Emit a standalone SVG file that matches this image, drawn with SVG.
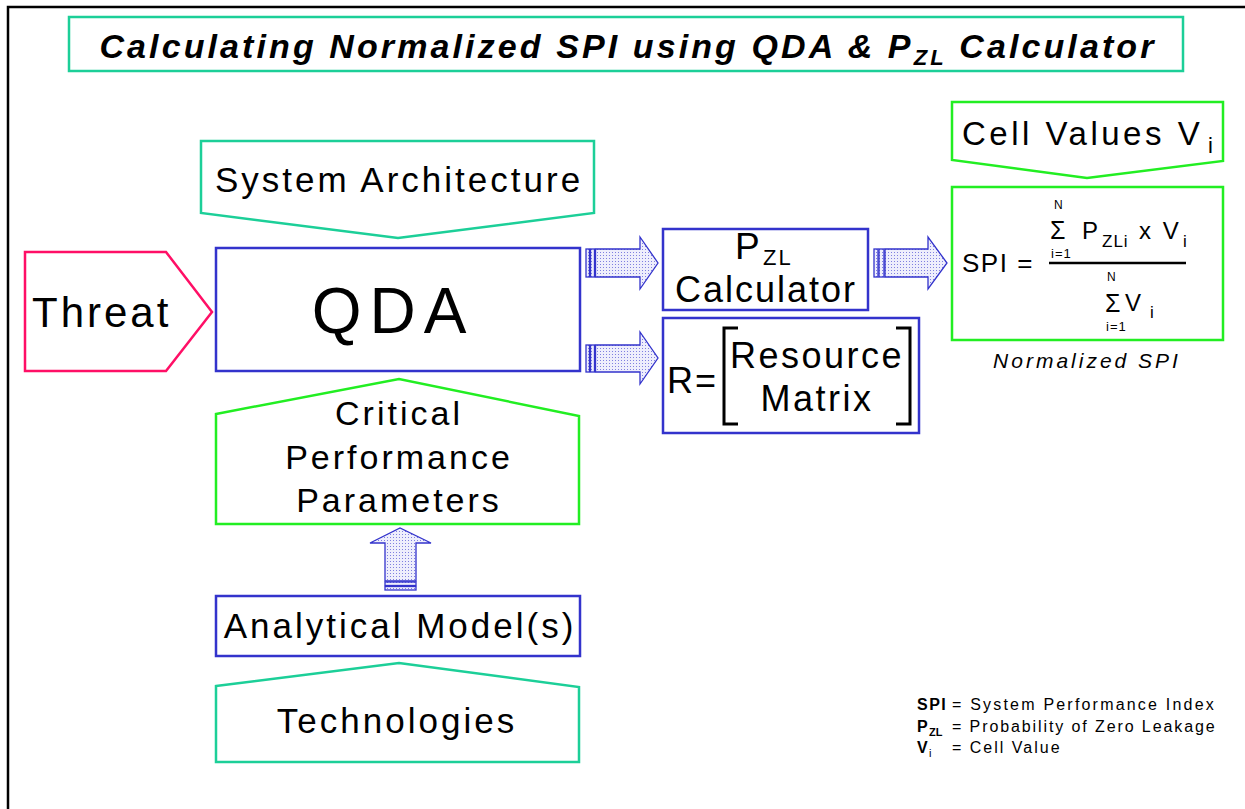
<svg xmlns="http://www.w3.org/2000/svg" width="1245" height="809" viewBox="0 0 1245 809">
<defs>
<pattern id="dots" width="3" height="3" patternUnits="userSpaceOnUse">
<rect width="3" height="3" fill="#eeeefc"/>
<rect width="1" height="1" fill="#8080e0"/>
</pattern>
<style>
.t{font-family:"Liberation Sans",Arial,sans-serif;fill:#000}
.teal{fill:#fff;stroke:#1ccf98;stroke-width:2.5}
.green{fill:#fff;stroke:#22ee22;stroke-width:2.5}
.blue{fill:#fff;stroke:#3333cc;stroke-width:2.5}
.pink{fill:#fff;stroke:#ff0f66;stroke-width:2.5}
.arr{fill:url(#dots);stroke:#3333cc;stroke-width:1.3}
.br{fill:none;stroke:#000;stroke-width:3}
</style>
</defs>
<rect width="1245" height="809" fill="#fff"/>
<path d="M8,809 V7 H1245" fill="none" stroke="#000" stroke-width="2.5"/>

<g id="title">
<rect class="teal" x="69" y="17" width="1114" height="54"/>
<text class="t" x="628" y="58" text-anchor="middle" font-size="34" font-weight="bold" font-style="italic" letter-spacing="3.1">Calculating Normalized SPI using QDA &amp; P<tspan font-size="22" dy="7">ZL</tspan><tspan dy="-7"> Calculator</tspan></text>
</g>

<g id="system-architecture">
<polygon class="teal" points="201,141 594,141 594,213 398,238 201,213"/>
<text class="t" x="399" y="192" text-anchor="middle" font-size="35" letter-spacing="3">System Architecture</text>
</g>

<g id="threat">
<polygon class="pink" points="25,252 166,252 212,312 166,371 25,371"/>
<text class="t" x="32" y="327" font-size="42" letter-spacing="3">Threat</text>
</g>

<g id="qda">
<rect class="blue" x="216" y="248" width="364" height="123"/>
<text class="t" x="393" y="333" text-anchor="middle" font-size="64" letter-spacing="8">QDA</text>
</g>

<g id="critical-performance-parameters">
<polygon class="green" points="216,414 399,379 579,416 579,524 216,524"/>
<text class="t" x="399" y="425" text-anchor="middle" font-size="34" letter-spacing="3">Critical</text>
<text class="t" x="399" y="469" text-anchor="middle" font-size="34" letter-spacing="3">Performance</text>
<text class="t" x="399" y="512" text-anchor="middle" font-size="34" letter-spacing="3">Parameters</text>
</g>

<g id="analytical-models">
<rect class="blue" x="216" y="596" width="364" height="60"/>
<text class="t" x="400" y="638" text-anchor="middle" font-size="35" letter-spacing="3">Analytical Model(s)</text>
</g>

<g id="technologies">
<polygon class="teal" points="216,686 399,663 579,687 579,762 216,762"/>
<text class="t" x="397" y="733" text-anchor="middle" font-size="35" letter-spacing="3">Technologies</text>
</g>

<g id="pzl-calculator">
<rect class="blue" x="663" y="229" width="205" height="81"/>
<text class="t" x="735" y="259" font-size="37">P</text>
<text class="t" x="763" y="265" font-size="22" letter-spacing="2">ZL</text>
<text class="t" x="766" y="302" text-anchor="middle" font-size="36" letter-spacing="2">Calculator</text>
</g>

<g id="resource-matrix">
<rect class="blue" x="663" y="318" width="256" height="115"/>
<text class="t" x="667" y="393" font-size="36" letter-spacing="2">R=</text>
<path class="br" d="M738,328 H724 V424 H738"/>
<path class="br" d="M896,328 H910 V424 H896"/>
<text class="t" x="817" y="368" text-anchor="middle" font-size="36" letter-spacing="2.5">Resource</text>
<text class="t" x="817" y="411" text-anchor="middle" font-size="36" letter-spacing="2.5">Matrix</text>
</g>

<g id="cell-values">
<polygon class="green" points="952,102 1223,102 1223,161 1087,178 952,160"/>
<text class="t" x="962" y="145" font-size="33" letter-spacing="3.5">Cell Values V</text>
<text class="t" x="1208" y="153" font-size="22">i</text>
</g>

<g id="spi-formula">
<rect class="green" x="952" y="187" width="271" height="153"/>
<text class="t" x="962" y="272" font-size="26" letter-spacing="1.5">SPI =</text>
<line x1="1049" y1="263" x2="1186" y2="263" stroke="#000" stroke-width="2.5"/>
<text class="t" x="1054" y="209" font-size="12">N</text>
<text class="t" x="1050" y="239" font-size="25">Σ</text>
<text class="t" x="1051" y="258" font-size="13" letter-spacing="1">i=1</text>
<text class="t" x="1082" y="239" font-size="24">P</text>
<text class="t" x="1102" y="247" font-size="17" letter-spacing="1">ZLi</text>
<text class="t" x="1139" y="239" font-size="24" letter-spacing="2.5">x V</text>
<text class="t" x="1183" y="247" font-size="17">i</text>
<text class="t" x="1107" y="281" font-size="12">N</text>
<text class="t" x="1105" y="312" font-size="25">Σ</text>
<text class="t" x="1125" y="311" font-size="24">V</text>
<text class="t" x="1150" y="318" font-size="17">i</text>
<text class="t" x="1106" y="331" font-size="13" letter-spacing="1">i=1</text>
</g>

<g id="normalized-spi-label">
<text class="t" x="1087" y="368" text-anchor="middle" font-size="21" font-style="italic" letter-spacing="3">Normalized SPI</text>
</g>

<g id="legend">
<text class="t" x="917" y="710" font-size="16" font-weight="bold" letter-spacing="1.5">SPI</text>
<text class="t" x="952" y="710" font-size="16" letter-spacing="2.2">= System Performance Index</text>
<text class="t" x="917" y="732" font-size="16" font-weight="bold">P</text>
<text class="t" x="929" y="736" font-size="11" font-weight="bold">ZL</text>
<text class="t" x="952" y="732" font-size="16" letter-spacing="1.9">= Probability of Zero Leakage</text>
<text class="t" x="917" y="753" font-size="16" font-weight="bold">V</text>
<text class="t" x="929" y="757" font-size="11">i</text>
<text class="t" x="952" y="753" font-size="16" letter-spacing="2">= Cell Value</text>
</g>

<g id="connectors">
<g id="arrow-qda-pzl">
<rect class="arr" x="586" y="249" width="3.5" height="28"/>
<rect class="arr" x="590.5" y="249" width="4" height="28"/>
<polygon class="arr" points="595.5,249 640,249 640,237 658,263 640,289 640,277 595.5,277"/>
</g>
<g id="arrow-qda-resource">
<rect class="arr" x="586" y="345" width="3.5" height="27"/>
<rect class="arr" x="590.5" y="345" width="4" height="27"/>
<polygon class="arr" points="595.5,345 640,345 640,332 658,358 640,384 640,372 595.5,372"/>
</g>
<g id="arrow-pzl-spi">
<rect class="arr" x="874" y="249" width="4" height="28"/>
<rect class="arr" x="879" y="249" width="5" height="28"/>
<polygon class="arr" points="885,249 928,249 928,237 947,263 928,289 928,277 885,277"/>
</g>
<g id="arrow-models-cpp">
<rect class="arr" x="385" y="586.5" width="31" height="3.5"/>
<rect class="arr" x="385" y="582" width="31" height="3.5"/>
<polygon class="arr" points="385,581 385,543 370,543 400,528 431,543 416,543 416,581"/>
</g>
</g>
</svg>
